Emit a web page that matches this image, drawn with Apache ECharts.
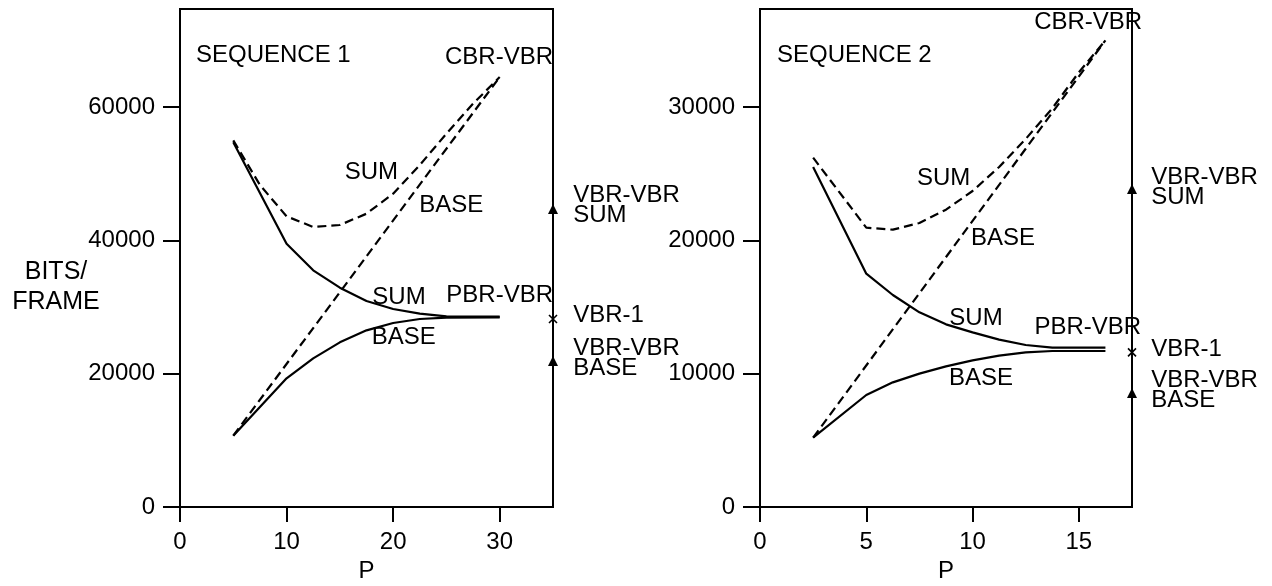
<!DOCTYPE html>
<html>
<head>
<meta charset="utf-8">
<script src="https://cdn.jsdelivr.net/npm/echarts@6/dist/echarts.min.js"></script>
<style>
  html, body { margin: 0; padding: 0; background: #fff; }
  #chart { width: 1272px; height: 586px; }
</style>
</head>
<body>
<div id="chart"></div>
<script>
// sequence 1, values as [P, bits/frame]
const seq1PbrSum = [[5, 54700], [10, 39500], [12.5, 35500], [15, 32900], [17.5, 30900], [20, 29700], [22.5, 29000], [25, 28600], [30, 28550]]
const seq1PbrBase = [[5, 10700], [10, 19300], [12.5, 22300], [15, 24700], [17.5, 26500], [20, 27600], [22.5, 28200], [25, 28400], [30, 28450]]
const seq1CbrSum = [[5, 55000], [7.5, 48300], [10, 43600], [12.5, 42000], [15, 42300], [17.5, 44000], [20, 47000], [22.5, 51300], [25, 56000], [27.5, 60500], [30, 64500]]
const seq1CbrBase = [[5, 10700], [30, 64500]]
const seq1Vbr = [[35, 44700, 'triangle'], [35, 28200, 'cross'], [35, 21900, 'triangle']]

// sequence 2
const seq2PbrSum = [[2.5, 25500], [5, 17500], [6.25, 15900], [7.5, 14600], [8.75, 13700], [10, 13100], [11.25, 12550], [12.5, 12150], [13.75, 11950], [15, 11950], [16.25, 11950]]
const seq2PbrBase = [[2.5, 5200], [5, 8400], [6.25, 9350], [7.5, 10000], [8.75, 10550], [10, 11000], [11.25, 11350], [12.5, 11600], [13.75, 11700], [16.25, 11700]]
const seq2CbrSum = [[2.5, 26200], [5, 20950], [6.25, 20800], [7.5, 21300], [8.75, 22300], [10, 23700], [11.25, 25500], [12.5, 27600], [13.75, 29900], [15, 32600], [16.25, 35000]]
const seq2CbrBase = [[2.5, 5200], [16.25, 35000]]
const seq2Vbr = [[17.5, 23850, 'triangle'], [17.5, 11600, 'cross'], [17.5, 8550, 'triangle']]

// axes
const xTicks1 = [0, 10, 20, 30]
const yTicks1 = [0, 20000, 40000, 60000]
const xTicks2 = [0, 5, 10, 15]
const yTicks2 = [0, 10000, 20000, 30000]

// text notes: [P, bits/frame, text, align]
const seq1Notes = [
  [1.5, 67800, 'SEQUENCE 1', 'left'],
  [35, 67500, 'CBR-VBR', 'right'],
  [17.95, 50250, 'SUM', 'center'],
  [25.45, 45300, 'BASE', 'center'],
  [20.55, 31500, 'SUM', 'center'],
  [35, 31800, 'PBR-VBR', 'right'],
  [21.0, 25500, 'BASE', 'center'],
  [36.9, 45300, 'VBR-VBR\nSUM', 'left'],
  [36.9, 28800, 'VBR-1', 'left'],
  [36.9, 22350, 'VBR-VBR\nBASE', 'left']
]
const seq2Notes = [
  [0.8, 33900, 'SEQUENCE 2', 'left'],
  [17.98, 36375, 'CBR-VBR', 'right'],
  [8.64, 24680, 'SUM', 'center'],
  [11.43, 20180, 'BASE', 'center'],
  [10.16, 14180, 'SUM', 'center'],
  [17.93, 13500, 'PBR-VBR', 'right'],
  [10.4, 9680, 'BASE', 'center'],
  [18.4, 24000, 'VBR-VBR\nSUM', 'left'],
  [18.4, 11850, 'VBR-1', 'left'],
  [18.4, 8775, 'VBR-VBR\nBASE', 'left']
]

const font = 'Liberation Sans'
const chart = echarts.init(document.getElementById('chart'))

const line = (data, dashed, gi) => ({
  type: 'line',
  xAxisIndex: gi,
  yAxisIndex: gi,
  data: data,
  symbol: 'none',
  silent: true,
  lineStyle: { color: '#000', width: 2.2, type: dashed ? [9, 5] : 'solid' }
})

const marks = (data, gi) => ({
  type: 'scatter',
  xAxisIndex: gi,
  yAxisIndex: gi,
  clip: false,
  silent: true,
  data: data.map(d => ({
    value: [d[0], d[1]],
    symbol: d[2] === 'cross' ? 'path://M0,0L10,10M10,0L0,10' : 'triangle',
    symbolSize: d[2] === 'cross' ? [8, 8] : [10, 10],
    itemStyle: d[2] === 'cross'
      ? { color: 'transparent', borderColor: '#000', borderWidth: 1.6, opacity: 1 }
      : { color: '#000', opacity: 1 }
  }))
})

const notes = (data, gi) => ({
  type: 'scatter',
  xAxisIndex: gi,
  yAxisIndex: gi,
  clip: false,
  silent: true,
  symbolSize: 0,
  itemStyle: { opacity: 1 },
  data: data.map(d => ({
    value: [d[0], d[1]],
    label: {
      show: true,
      formatter: d[2],
      position: 'inside',
      align: d[3],
      verticalAlign: 'middle',
      color: '#000',
      opacity: 1,
      fontFamily: font,
      fontSize: 24,
      lineHeight: 20
    }
  }))
})

const xAxis = (max, ticks, gi) => ({
  type: 'value',
  gridIndex: gi,
  min: 0,
  max: max,
  name: 'P',
  nameLocation: 'middle',
  nameGap: 50,
  nameTextStyle: { color: '#000', fontFamily: font, fontSize: 24 },
  axisLine: { show: true, onZero: false, lineStyle: { color: '#000', width: 2 } },
  axisTick: { show: true, length: 15, customValues: ticks, lineStyle: { color: '#000', width: 2 } },
  axisLabel: { customValues: ticks, margin: 23, color: '#000', fontFamily: font, fontSize: 24, formatter: v => String(v) },
  splitLine: { show: false }
})

const yAxis = (max, ticks, gi) => ({
  type: 'value',
  gridIndex: gi,
  min: 0,
  max: max,
  axisLine: { show: true, onZero: false, lineStyle: { color: '#000', width: 2 } },
  axisTick: { show: true, length: 17, customValues: ticks, lineStyle: { color: '#000', width: 2 } },
  axisLabel: { customValues: ticks, margin: 25, color: '#000', fontFamily: font, fontSize: 24, formatter: v => String(v) },
  splitLine: { show: false }
})

const option = {
  backgroundColor: '#fff',
  animation: false,
  grid: [
    { left: 180, top: 9, width: 373, height: 498, show: true, borderColor: '#000', borderWidth: 2, outerBoundsMode: 'none' },
    { left: 760, top: 9, width: 372, height: 498, show: true, borderColor: '#000', borderWidth: 2, outerBoundsMode: 'none' }
  ],
  xAxis: [xAxis(35, xTicks1, 0), xAxis(17.5, xTicks2, 1)],
  yAxis: [yAxis(74700, yTicks1, 0), yAxis(37350, yTicks2, 1)],
  graphic: [{
    type: 'text',
    x: 56,
    y: 287,
    style: {
      text: 'BITS/\nFRAME',
      fill: '#000',
      font: '25px "Liberation Sans"',
      align: 'center',
      verticalAlign: 'middle',
      lineHeight: 30
    }
  }],
  series: [
    line(seq1PbrSum, false, 0),
    line(seq1PbrBase, false, 0),
    line(seq1CbrSum, true, 0),
    line(seq1CbrBase, true, 0),
    marks(seq1Vbr, 0),
    notes(seq1Notes, 0),
    line(seq2PbrSum, false, 1),
    line(seq2PbrBase, false, 1),
    line(seq2CbrSum, true, 1),
    line(seq2CbrBase, true, 1),
    marks(seq2Vbr, 1),
    notes(seq2Notes, 1)
  ]
}

chart.setOption(option)
</script>
</body>
</html>
